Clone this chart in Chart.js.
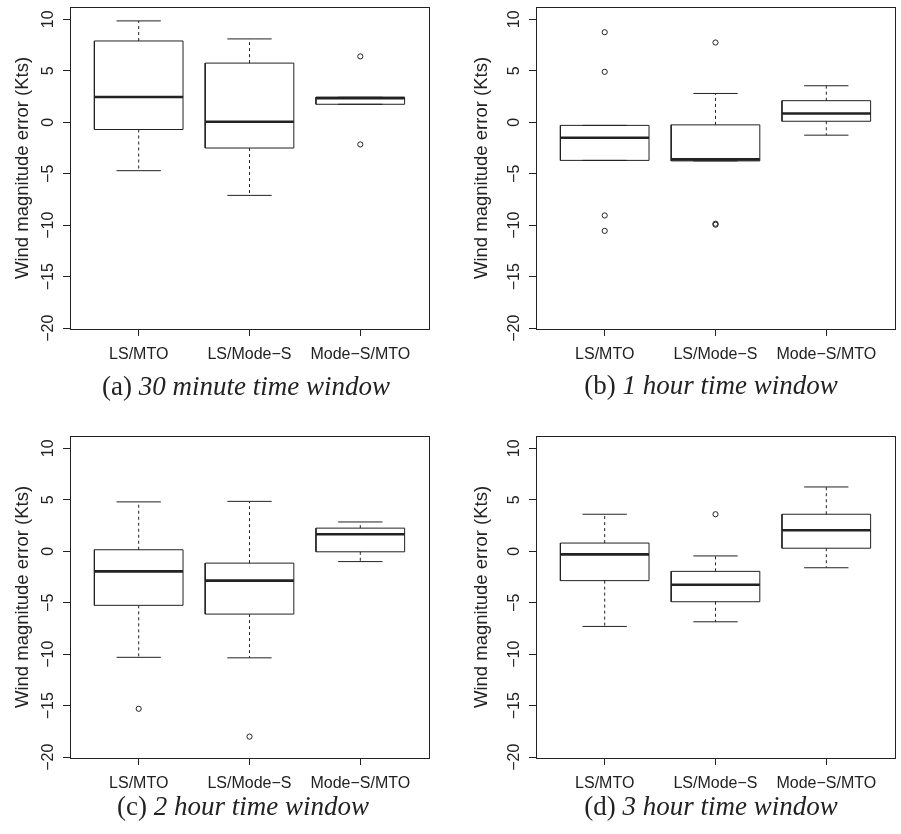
<!DOCTYPE html>
<html>
<head>
<meta charset="utf-8">
<script src="https://cdn.jsdelivr.net/npm/chart.js@4/dist/chart.umd.min.js"></script>
<style>
body { margin: 0; background: #fff; }
#wrap { position: relative; width: 901px; height: 834px; }
canvas { position: absolute; }
.cap { position: absolute; width: 400px; text-align: center; font: 27px 'Liberation Serif', serif; line-height: 27px; color: #222; }
</style>
</head>
<body>
<div id="wrap">
  <canvas id="c0" width="450" height="372" style="left:0;top:0"></canvas>
  <canvas id="c1" width="450" height="372" style="left:450px;top:0"></canvas>
  <canvas id="c2" width="450" height="372" style="left:0;top:429px"></canvas>
  <canvas id="c3" width="450" height="372" style="left:450px;top:429px"></canvas>
  <div class="cap" style="left:46px;top:373px">(a) <i>30 minute time window</i></div>
  <div class="cap" style="left:511px;top:372px">(b) <i>1 hour time window</i></div>
  <div class="cap" style="left:43px;top:793px">(c) <i>2 hour time window</i></div>
  <div class="cap" style="left:511px;top:793px">(d) <i>3 hour time window</i></div>
</div>
<script>
const groups = ['LS/MTO', 'LS/Mode\u2212S', 'Mode\u2212S/MTO'];
const yTicks = [-20, -15, -10, -5, 0, 5, 10];

// one row per panel: (a) 30 min, (b) 1 hour, (c) 2 hour, (d) 3 hour
const lowWhisker = [
  [-4.7, -7.1, 1.75],
  [-3.7, -3.75, -1.25],
  [-10.3, -10.35, -1.0],
  [-7.3, -6.85, -1.6]
];
const q1 = [
  [-0.7, -2.5, 1.75],
  [-3.7, -3.75, 0.1],
  [-5.25, -6.1, -0.05],
  [-2.85, -4.9, 0.3]
];
const median = [
  [2.45, 0.05, 2.35],
  [-1.5, -3.6, 0.85],
  [-1.95, -2.85, 1.65],
  [-0.3, -3.25, 2.05]
];
const q3 = [
  [7.9, 5.75, 2.43],
  [-0.3, -0.25, 2.1],
  [0.15, -1.15, 2.25],
  [0.8, -1.95, 3.6]
];
const highWhisker = [
  [9.85, 8.1, 2.43],
  [-0.3, 2.8, 3.55],
  [4.8, 4.85, 2.85],
  [3.6, -0.45, 6.25]
];
const outliers = [
  [[], [], [6.4, -2.15]],
  [[8.75, 4.9, -9.05, -10.55], [7.75, -9.85, -9.95], []],
  [[-15.3], [-18.0], []],
  [[], [3.6], []]
];

const plotLeft = [70, 86, 70, 86];
const plotRight = [429, 445, 429, 445];
const titlePad = [12, 21, 12, 21];
const ink = '#222';

const rotatedYLabels = {
  id: 'rotatedYLabels',
  afterDraw(chart) {
    const s = chart.scales.y, ctx = chart.ctx;
    ctx.save();
    ctx.font = '16px "Liberation Sans"';
    ctx.fillStyle = ink;
    ctx.textAlign = 'center';
    ctx.textBaseline = 'middle';
    s.ticks.forEach(t => {
      ctx.save();
      ctx.translate(chart.chartArea.left - 21, s.getPixelForValue(t.value));
      ctx.rotate(-Math.PI / 2);
      ctx.fillText(String(t.value).replace('-', '\u2212'), 0, 0);
      ctx.restore();
    });
    ctx.restore();
  }
};

const frame = {
  id: 'frame',
  afterDraw(chart) {
    const a = chart.chartArea, ctx = chart.ctx;
    ctx.save();
    ctx.strokeStyle = ink;
    ctx.lineWidth = 1;
    ctx.strokeRect(Math.round(a.left) + 0.5, Math.round(a.top) + 0.5, Math.round(a.right - a.left), Math.round(a.bottom - a.top));
    ctx.restore();
  }
};

function makeChart(p) {
  const boxPts = [], medPts = [], whiskPts = [], staplePts = [], outPts = [];
  groups.forEach((g, i) => {
    const x = i + 1;
    boxPts.push({x: x - 0.4, y: q1[p][i]}, {x: x + 0.4, y: q1[p][i]}, {x: x + 0.4, y: q3[p][i]},
                {x: x - 0.4, y: q3[p][i]}, {x: x - 0.4, y: q1[p][i]}, {x: x, y: null});
    medPts.push({x: x - 0.4, y: median[p][i]}, {x: x + 0.4, y: median[p][i]}, {x: x, y: null});
    whiskPts.push({x: x, y: q3[p][i]}, {x: x, y: highWhisker[p][i]}, {x: x, y: null},
                  {x: x, y: q1[p][i]}, {x: x, y: lowWhisker[p][i]}, {x: x, y: null});
    staplePts.push({x: x - 0.2, y: highWhisker[p][i]}, {x: x + 0.2, y: highWhisker[p][i]}, {x: x, y: null},
                   {x: x - 0.2, y: lowWhisker[p][i]}, {x: x + 0.2, y: lowWhisker[p][i]}, {x: x, y: null});
    outliers[p][i].forEach(v => outPts.push({x: x, y: v}));
  });
  const line = {showLine: true, spanGaps: false, pointRadius: 0, borderColor: ink, borderWidth: 1, fill: false};
  return new Chart(document.getElementById('c' + p), {
    type: 'scatter',
    data: {
      datasets: [
        Object.assign({label: 'whiskers', data: whiskPts, borderDash: [3, 3]}, line),
        Object.assign({label: 'staples', data: staplePts}, line),
        Object.assign({label: 'boxes', data: boxPts}, line),
        Object.assign({label: 'medians', data: medPts}, line, {borderWidth: 2.6}),
        {label: 'outliers', data: outPts, showLine: false, pointRadius: 2.6, pointStyle: 'circle',
         pointBorderColor: ink, pointBackgroundColor: 'rgba(0,0,0,0)', pointBorderWidth: 1}
      ]
    },
    options: {
      responsive: false,
      animation: false,
      layout: {padding: {left: 0, right: 450 - plotRight[p], top: 7, bottom: 0}},
      plugins: {legend: {display: false}, tooltip: {enabled: false}},
      scales: {
        x: {
          type: 'linear', min: 0.38, max: 3.62,
          afterBuildTicks: s => { s.ticks = groups.map((g, i) => ({value: i + 1})); },
          afterFit: s => { s.height = 43; },
          ticks: {callback: v => groups[v - 1], font: {family: 'Liberation Sans', size: 16}, color: ink,
                  padding: 9, maxRotation: 0, autoSkip: false},
          grid: {drawOnChartArea: false, tickLength: 7, color: ink},
          border: {display: false}
        },
        y: {
          min: -20.08, max: 11.2,
          afterBuildTicks: s => { s.ticks = yTicks.map(v => ({value: v})); },
          afterFit: s => { s.width = plotLeft[p]; },
          ticks: {display: false},
          grid: {drawOnChartArea: false, tickLength: 7, color: ink},
          border: {display: false},
          title: {display: true, text: 'Wind magnitude error (Kts)', color: ink,
                  font: {family: 'Liberation Sans', size: 18.5}, padding: {top: titlePad[p], bottom: 0}}
        }
      }
    },
    plugins: [rotatedYLabels, frame]
  });
}

[0, 1, 2, 3].forEach(makeChart);
</script>
</body>
</html>
